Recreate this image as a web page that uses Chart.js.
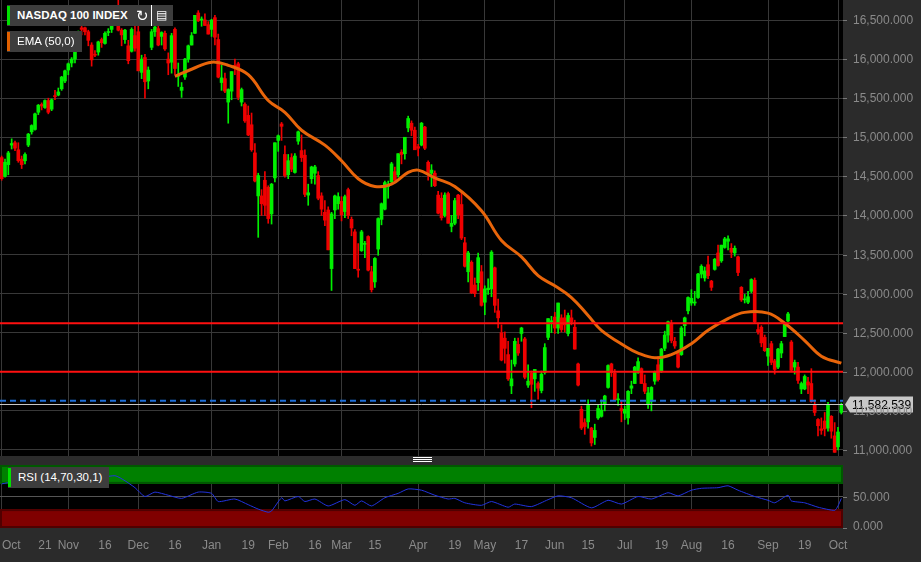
<!DOCTYPE html>
<html>
<head>
<meta charset="utf-8">
<script src="https://cdn.jsdelivr.net/npm/chart.js@4"></script>
<style>
  body { margin: 0; background: #2b2b2b; width: 921px; height: 562px; overflow: hidden; font-family: "Liberation Sans", Arial, sans-serif; }
  #mainWrap { position: absolute; left: 0; top: 0; width: 921px; height: 457px; }
  #rsiWrap { position: absolute; left: 0; top: 464px; width: 921px; height: 98px; }
  .tag { position: absolute; background: #3d3d3d; color: #fff; font-size: 11.5px; font-weight: bold; line-height: 21px; height: 21px; padding: 0 7px 0 10px; }
  .tag:before { content: ''; position: absolute; left: 0; top: 1px; bottom: 1px; width: 3px; }
  .green:before { background: #00e000; }
  .orange:before { background: #e06000; }
  .icons { position: absolute; left: 131px; top: 5px; height: 21px; width: 42px; background: #3d3d3d; color: #fff; font-size: 15px; line-height: 21px; }
  .sep { position: absolute; left: 0; top: 456px; width: 921px; height: 8px; background: #2b2b2b; }
  .handle { position: absolute; left: 413px; top: 457px; width: 19px; height: 5px; border-top: 1px solid #fff; border-bottom: 1px solid #fff; box-sizing: border-box; }
  .handle:after { content: ''; position: absolute; left: 0; right: 0; top: 1px; border-top: 1px solid #fff; }
</style>
</head>
<body>
<div id="mainWrap"><canvas id="mainChart"></canvas></div>
<div class="sep"></div><div class="handle"></div>
<div id="rsiWrap"><canvas id="rsiChart"></canvas></div>
<div class="tag green" style="left:7px;top:5px;">NASDAQ 100 INDEX</div>
<div class="icons"><span style="position:absolute;left:5px;">&#8635;</span><span style="position:absolute;left:20px;top:0;width:1px;height:21px;background:#fff;"></span><span style="position:absolute;left:25px;font-size:12px;">&#9636;</span></div>
<div class="tag orange" style="left:7px;top:31px;font-weight:normal;">EMA (50,0)</div>
<div class="tag green" style="left:8px;top:467px;font-weight:normal;">RSI (14,70,30,1)</div>
<script>
// [date, open, high, low, close]
const candles = [
['21-10-04',14740,14760,14450,14470],['21-10-05',14500,14720,14490,14680],
['21-10-06',14650,14820,14520,14800],['21-10-07',14900,14980,14850,14920],['21-10-08',14930,14950,14830,14860],
['21-10-11',14840,14930,14680,14700],['21-10-12',14720,14760,14600,14650],['21-10-13',14700,14800,14660,14780],
['21-10-14',14900,15050,14880,15040],['21-10-15',15070,15160,15040,15150],['21-10-18',15100,15310,15090,15300],
['21-10-19',15320,15420,15290,15410],['21-10-20',15420,15440,15350,15400],['21-10-21',15380,15480,15370,15470],
['21-10-22',15470,15500,15300,15320],['21-10-25',15360,15490,15340,15480],['21-10-26',15530,15600,15480,15520],
['21-10-27',15540,15630,15530,15580],['21-10-28',15620,15780,15600,15770],['21-10-29',15720,15860,15700,15850],
['21-11-01',15860,15950,15800,15940],['21-11-02',15950,16020,15900,16000],['21-11-03',16000,16180,15950,16170],
['21-11-04',16220,16360,16200,16350],['21-11-05',16400,16440,16310,16380],['21-11-08',16400,16410,16310,16350],
['21-11-09',16350,16370,16170,16240],['21-11-10',16180,16210,15910,15990],['21-11-11',16060,16110,16030,16050],
['21-11-12',16090,16230,16050,16220],['21-11-15',16250,16270,16150,16210],['21-11-16',16200,16350,16190,16330],
['21-11-17',16340,16390,16300,16340],['21-11-18',16380,16510,16340,16500],['21-11-19',16520,16600,16500,16570],
['21-11-22',16610,16760,16360,16370],['21-11-23',16370,16390,16170,16310],['21-11-24',16250,16380,16200,16370],
['21-11-26',16170,16240,15940,15980],['21-11-29',16100,16400,16090,16380],['21-11-30',16300,16420,16100,16140],
['21-12-01',16350,16480,15850,15850],['21-12-02',15830,16050,15750,16000],['21-12-03',16020,16060,15500,15710],
['21-12-06',15720,15900,15620,15860],['21-12-07',16150,16380,16120,16350],['21-12-08',16350,16440,16290,16410],
['21-12-09',16390,16430,16170,16180],['21-12-10',16290,16350,16180,16340],['21-12-13',16330,16360,16110,16130],
['21-12-14',16000,16080,15800,15950],['21-12-15',15960,16330,15820,16300],['21-12-16',16380,16400,15800,15880],
['21-12-17',15780,15950,15650,15800],['21-12-20',15600,15700,15510,15640],['21-12-21',15770,16010,15740,16000],
['21-12-22',16000,16180,15960,16170],['21-12-23',16180,16340,16180,16300],['21-12-27',16330,16560,16330,16560],
['21-12-28',16590,16620,16480,16490],['21-12-29',16500,16540,16420,16500],['21-12-30',16500,16580,16430,16430],
['21-12-31',16440,16480,16320,16320],
['22-01-03',16380,16510,16290,16500],['22-01-04',16530,16560,16180,16280],['22-01-05',16250,16320,15760,15770],
['22-01-06',15700,15920,15600,15760],['22-01-07',15750,15820,15570,15590],['22-01-10',15450,15620,15180,15610],
['22-01-11',15590,15840,15480,15840],['22-01-12',15920,16000,15800,15900],['22-01-13',15940,15960,15480,15510],
['22-01-14',15450,15630,15400,15610],['22-01-18',15420,15440,15190,15210],['22-01-19',15280,15400,15020,15030],
['22-01-20',15160,15310,14820,14840],['22-01-21',14800,14920,14430,14440],['22-01-24',14250,14540,13720,14510],
['22-01-25',14250,14330,14000,14150],['22-01-26',14450,14560,14000,14130],['22-01-27',14360,14380,13900,13960],
['22-01-28',14020,14410,13890,14400],['22-01-31',14480,14930,14430,14930],
['22-02-01',14960,15030,14820,15020],['22-02-02',15170,15190,14960,15140],['22-02-03',14780,14890,14490,14510],
['22-02-04',14520,14780,14470,14700],['22-02-07',14740,14790,14560,14590],['22-02-08',14550,14790,14540,14760],
['22-02-09',14950,15080,14910,15070],['22-02-10',14830,15030,14690,14740],['22-02-11',14770,14840,14240,14270],
['22-02-14',14260,14400,14130,14290],['22-02-15',14470,14630,14410,14620],['22-02-16',14540,14640,14400,14620],
['22-02-17',14510,14560,14200,14220],['22-02-18',14250,14290,14000,14080],['22-02-22',14040,14190,13870,13940],
['22-02-23',14070,14110,13560,13560],['22-02-24',13320,14040,13040,14020],['22-02-25',14070,14260,13960,14250],
['22-02-28',14150,14290,14080,14240],
['22-03-01',14180,14240,13930,14010],['22-03-02',14050,14260,13970,14240],['22-03-03',14330,14350,13960,14000],
['22-03-04',13950,13980,13740,13840],['22-03-07',13790,13820,13320,13320],['22-03-08',13310,13640,13210,13300],
['22-03-09',13550,13810,13540,13790],['22-03-10',13630,13670,13460,13630],['22-03-11',13730,13740,13290,13300],
['22-03-14',13280,13350,13020,13050],['22-03-15',13150,13460,13080,13450],['22-03-16',13570,13970,13490,13960],
['22-03-17',13950,14160,13880,14150],['22-03-18',14080,14440,14070,14420],['22-03-21',14370,14440,14220,14390],
['22-03-22',14430,14680,14420,14660],['22-03-23',14560,14620,14440,14450],['22-03-24',14520,14790,14490,14790],
['22-03-25',14810,14840,14660,14780],['22-03-28',14790,15000,14720,15000],['22-03-29',15120,15270,15070,15240],
['22-03-30',15180,15210,15020,15090],['22-03-31',15090,15130,14840,14840],
['22-04-01',14880,14910,14760,14860],['22-04-04',14900,15190,14890,15180],['22-04-05',15130,15140,14840,14860],
['22-04-06',14680,14700,14450,14540],['22-04-07',14540,14650,14370,14580],['22-04-08',14540,14570,14370,14380],
['22-04-11',14260,14310,14020,14030],['22-04-12',14220,14290,13940,13970],['22-04-13',14000,14290,13980,14260],
['22-04-14',14280,14300,13900,13900],['22-04-18',13860,14000,13790,13900],['22-04-19',13900,14220,13880,14190],
['22-04-20',14260,14270,13960,14010],['22-04-21',14140,14310,13690,13710],['22-04-22',13650,13720,13340,13350],
['22-04-25',13280,13540,13150,13520],['22-04-26',13400,13420,13000,13010],['22-04-27',13110,13200,12960,13000],
['22-04-28',13140,13520,13040,13460],['22-04-29',13280,13360,12840,12850],
['22-05-02',12890,13100,12730,13060],['22-05-03',13050,13190,12990,13070],['22-05-04',13060,13550,12960,13530],
['22-05-05',13330,13340,12760,12850],['22-05-06',12780,12930,12560,12690],['22-05-09',12500,12600,12140,12150],
['22-05-10',12430,12510,12110,12300],['22-05-11',12220,12390,11890,11910],['22-05-12',11820,12150,11720,11910],
['22-05-13',12100,12430,12070,12390],['22-05-16',12350,12430,12210,12240],['22-05-17',12490,12570,12390,12560],
['22-05-18',12420,12440,11910,11930],['22-05-19',11830,12090,11800,11880],['22-05-20',11980,12010,11540,11840],
['22-05-23',11910,12030,11750,12030],['22-05-24',11850,11870,11650,11790],['22-05-25',11760,12010,11730,11970],
['22-05-26',11990,12360,11970,12310],['22-05-27',12440,12680,12410,12680],['22-05-31',12640,12710,12500,12640],
['22-06-01',12700,12760,12490,12560],['22-06-02',12560,12880,12490,12880],['22-06-03',12690,12730,12510,12540],
['22-06-06',12690,12790,12510,12600],['22-06-07',12490,12750,12460,12720],['22-06-08',12690,12790,12600,12640],
['22-06-09',12570,12660,12290,12290],['22-06-10',12100,12110,11820,11830],['22-06-13',11520,11560,11260,11280],
['22-06-14',11350,11400,11200,11300],['22-06-15',11360,11640,11280,11570],['22-06-16',11280,11290,11050,11090],
['22-06-17',11160,11330,11070,11250],['22-06-21',11410,11570,11390,11530],['22-06-22',11430,11640,11420,11510],
['22-06-23',11580,11700,11500,11690],['22-06-24',11800,12090,11790,12080],['22-06-27',12100,12110,11940,11990],
['22-06-28',11980,12030,11630,11640],['22-06-29',11640,11720,11570,11640],['22-06-30',11530,11620,11360,11500],
['22-07-01',11470,11560,11390,11520],['22-07-05',11410,11760,11330,11750],['22-07-06',11790,11880,11720,11820],
['22-07-07',11850,12070,11850,12060],['22-07-08',11990,12180,11980,12130],['22-07-11',12040,12050,11850,11850],
['22-07-12',11850,11960,11720,11750],['22-07-13',11580,11800,11530,11730],['22-07-14',11620,11810,11500,11800],
['22-07-15',11880,12010,11840,12000],['22-07-18',12090,12190,11880,11900],['22-07-19',12010,12300,11990,12290],
['22-07-20',12300,12520,12270,12470],['22-07-21',12470,12650,12380,12640],['22-07-22',12620,12660,12370,12400],
['22-07-25',12390,12440,12300,12330],['22-07-26',12250,12260,12050,12060],['22-07-27',12220,12580,12210,12560],
['22-07-28',12590,12700,12460,12690],['22-07-29',12780,12960,12740,12950],
['22-08-01',12880,13050,12850,12940],['22-08-02',12880,13030,12850,12880],['22-08-03',12950,13260,12940,13250],
['22-08-04',13250,13370,13200,13350],['22-08-05',13200,13340,13160,13290],['22-08-08',13370,13480,13190,13230],
['22-08-09',13160,13170,13040,13080],['22-08-10',13310,13450,13300,13440],['22-08-11',13520,13620,13350,13360],
['22-08-12',13420,13620,13400,13620],['22-08-15',13590,13720,13580,13700],['22-08-16',13670,13740,13560,13700],
['22-08-17',13580,13640,13460,13530],['22-08-18',13520,13610,13480,13580],['22-08-19',13470,13480,13230,13270],
['22-08-22',13080,13090,12900,12920],['22-08-23',12920,12990,12880,12920],['22-08-24',12890,13030,12870,12960],
['22-08-25',13030,13190,13010,13180],['22-08-26',13170,13200,12630,12640],['22-08-29',12540,12620,12480,12510],
['22-08-30',12570,12590,12320,12370],['22-08-31',12440,12470,12260,12270],
['22-09-01',12200,12300,12080,12300],['22-09-02',12360,12390,12090,12120],['22-09-06',12140,12160,11970,12030],
['22-09-07',12060,12300,12040,12290],['22-09-08',12240,12390,12180,12360],['22-09-09',12450,12630,12450,12620],
['22-09-12',12650,12760,12640,12740],['22-09-13',12380,12400,12000,12020],['22-09-14',12060,12150,11970,12120],
['22-09-15',12060,12120,11850,11890],['22-09-16',11780,11870,11720,11850],['22-09-19',11780,11960,11770,11940],
['22-09-20',11870,11930,11720,11830],['22-09-21',11850,12040,11610,11620],['22-09-22',11580,11640,11440,11480],
['22-09-23',11390,11400,11180,11310],['22-09-26',11270,11410,11200,11250],['22-09-27',11370,11480,11180,11270],
['22-09-28',11280,11610,11240,11580],['22-09-29',11430,11440,11150,11240],['22-09-30',11180,11350,10970,10970],
['22-10-03',11040,11290,11000,11230],['22-10-04',11480,11600,11460,11582.539]
];

const emaDates = ['21-12-16','21-12-23','22-01-03','22-01-10','22-01-19','22-01-27','22-02-03','22-02-10','22-02-22','22-03-01','22-03-08','22-03-15','22-03-22','22-03-29','22-04-01','22-04-08','22-04-19','22-04-29','22-05-09','22-05-17','22-05-24','22-06-01','22-06-08','22-06-15','22-06-22','22-07-01','22-07-08','22-07-15','22-07-22','22-08-01','22-08-08','22-08-16','22-08-23','22-09-01','22-09-09','22-09-19','22-09-26','22-10-04'];
const emaValues = [15780,15870,15960,15920,15800,15470,15320,15090,14900,14700,14470,14370,14400,14550,14580,14480,14370,14060,13680,13470,13230,13100,12950,12720,12530,12330,12240,12180,12220,12360,12530,12680,12760,12750,12620,12400,12200,12110];

const rsiDates = ['21-10-04','21-10-14','21-10-22','21-11-01','21-11-10','21-11-19','21-11-24','21-11-30','21-12-03','21-12-08','21-12-14','21-12-20','21-12-28','22-01-03','22-01-05','22-01-12','22-01-19','22-01-24','22-01-27','22-01-28','22-02-02','22-02-03','22-02-09','22-02-11','22-02-16','22-02-23','22-03-02','22-03-07','22-03-09','22-03-14','22-03-18','22-03-24','22-03-29','22-04-04','22-04-08','22-04-14','22-04-19','22-04-22','22-04-29','22-05-04','22-05-11','22-05-13','22-05-20','22-05-27','22-06-02','22-06-08','22-06-16','22-06-24','22-06-30','22-07-08','22-07-14','22-07-21','22-07-26','22-08-01','22-08-04','22-08-11','22-08-16','22-08-19','22-08-26','22-09-01','22-09-06','22-09-12','22-09-13','22-09-19','22-09-23','22-09-30','22-10-03','22-10-04'];
const rsiValues = [70,78,80,84,78,83,75,64,50,57,52,47,57,55,42,46,37,30,25,27,48,43,50,42,46,35,45,36,43,35,48,55,62,60,52,46,47,40,36,42,33,38,34,45,51,48,32,44,38,50,46,56,51,60,63,64,67,60,50,44,40,52,43,40,33,28,35,47];

const priceTicks = [11000,11500,12000,12500,13000,13500,14000,14500,15000,15500,16000,16500];
const rsiTicks = [0, 50];
const levelLines = [12620, 12000];
const dashedLevel = 11630;
const lastPrice = 11582.539;

const xTickDates = ['21-10-04','21-10-21','21-11-01','21-11-16','21-12-01','21-12-16','22-01-03','22-01-19','22-02-01','22-02-16','22-03-01','22-03-15','22-04-01','22-04-19','22-05-02','22-05-17','22-06-01','22-06-15','22-07-01','22-07-19','22-08-01','22-08-16','22-09-01','22-09-19','22-10-03'];
const xTickLabels = ['Oct','21','Nov','16','Dec','16','Jan','19','Feb','16','Mar','15','Apr','19','May','17','Jun','15','Jul','19','Aug','16','Sep','19','Oct'];

const labels = candles.map(c => c[0]);
const up = candles.map(c => c[4] >= c[1]);
const candleColors = up.map(u => u ? '#00f000' : '#f00000');
const FONT = '12px "Liberation Sans", Arial';

function sparse(dates, values) {
    const out = labels.map(() => null);
    dates.forEach((d, i) => { const k = labels.indexOf(d); if (k >= 0) out[k] = values[i]; });
    return out;
}

function tickLabelFor(i) {
    const k = xTickDates.indexOf(labels[i]);
    return k >= 0 ? xTickLabels[k] : '';
}
function isMonthTick(i) {
    const t = tickLabelFor(i);
    return t !== '' && isNaN(parseInt(t));
}

const fmt = v => v.toLocaleString('en-US', { minimumFractionDigits: 3, maximumFractionDigits: 3 });

// black plot area
const areaBg = {
    id: 'areaBg',
    beforeDraw(chart) {
        const { ctx, chartArea: a } = chart;
        ctx.save();
        ctx.fillStyle = '#000';
        ctx.fillRect(a.left, a.top, a.right - a.left, a.bottom - a.top);
        ctx.restore();
    }
};

// right-hand value labels drawn by hand so they don't pad the plot area
const yLabels = {
    id: 'yLabels',
    afterDraw(chart, args, opts) {
        const { ctx, chartArea: a, scales: { y } } = chart;
        ctx.save();
        ctx.font = FONT;
        ctx.fillStyle = '#8a8a8a';
        ctx.strokeStyle = '#777';
        ctx.textBaseline = 'middle';
        opts.values.forEach(v => {
            const py = Math.round(y.getPixelForValue(v)) + 0.5;
            ctx.beginPath(); ctx.moveTo(a.right, py); ctx.lineTo(a.right + 4, py); ctx.stroke();
            ctx.fillText(fmt(v), a.right + 10, Math.min(py, a.bottom - 1));
        });
        ctx.restore();
    }
};

// bottom date labels
const xLabels = {
    id: 'xLabels',
    afterDraw(chart) {
        const { ctx, chartArea: a, scales: { x } } = chart;
        ctx.save();
        ctx.font = FONT;
        ctx.fillStyle = '#8a8a8a';
        ctx.textBaseline = 'middle';
        ctx.textAlign = 'center';
        labels.forEach((d, i) => {
            const t = tickLabelFor(i);
            if (!t) return;
            const w = ctx.measureText(t).width;
            const px = Math.max(x.getPixelForValue(i), 2 + w / 2);
            ctx.fillText(t, px, a.bottom + 18);
        });
        ctx.restore();
    }
};

// horizontal levels + price tag
const levels = {
    id: 'levels',
    afterDatasetsDraw(chart) {
        const { ctx, chartArea: a, scales: { y } } = chart;
        ctx.save();
        ctx.strokeStyle = '#ff1010';
        ctx.lineWidth = 2;
        levelLines.forEach(v => {
            const py = y.getPixelForValue(v);
            ctx.beginPath(); ctx.moveTo(a.left, py); ctx.lineTo(a.right, py); ctx.stroke();
        });
        ctx.strokeStyle = '#1f6fd8';
        ctx.setLineDash([6, 4]);
        let py = y.getPixelForValue(dashedLevel);
        ctx.beginPath(); ctx.moveTo(a.left, py); ctx.lineTo(a.right, py); ctx.stroke();
        ctx.setLineDash([]);
        ctx.strokeStyle = '#c8c8c8';
        ctx.lineWidth = 1;
        py = Math.round(y.getPixelForValue(lastPrice)) + 0.5;
        ctx.beginPath(); ctx.moveTo(a.left, py); ctx.lineTo(a.right, py); ctx.stroke();
        ctx.restore();
    },
    afterDraw(chart) {
        const { ctx, chartArea: a, scales: { y } } = chart;
        const py = Math.round(y.getPixelForValue(lastPrice)) + 0.5;
        ctx.save();
        ctx.fillStyle = '#c8c8c8';
        ctx.beginPath();
        ctx.moveTo(a.right + 2, py);
        ctx.lineTo(a.right + 7, py - 8);
        ctx.lineTo(a.right + 70, py - 8);
        ctx.lineTo(a.right + 70, py + 8);
        ctx.lineTo(a.right + 7, py + 8);
        ctx.closePath();
        ctx.fill();
        ctx.fillStyle = '#000';
        ctx.font = FONT;
        ctx.textBaseline = 'middle';
        ctx.fillText(fmt(lastPrice), a.right + 9, py + 1);
        ctx.restore();
    }
};

// RSI bands
const rsiBands = {
    id: 'rsiBands',
    beforeDatasetsDraw(chart) {
        const { ctx, chartArea: a, scales: { y } } = chart;
        ctx.save();
        const band = (lo, hi, fill, edge) => {
            const t = y.getPixelForValue(hi), b = y.getPixelForValue(lo);
            ctx.fillStyle = fill;
            ctx.fillRect(a.left, t, a.right - a.left, b - t);
            ctx.strokeStyle = edge; ctx.lineWidth = 2;
            ctx.strokeRect(a.left + 1, t + 1, a.right - a.left - 2, b - t - 2);
        };
        band(70, 100, '#008000', '#005800');
        band(0, 30, '#800000', '#500000');
        const m = y.getPixelForValue(50);
        ctx.strokeStyle = '#555'; ctx.lineWidth = 1;
        ctx.beginPath(); ctx.moveTo(a.left, m); ctx.lineTo(a.right, m); ctx.stroke();
        ctx.restore();
    }
};

const gridColor = ctx => (ctx.index !== undefined && isMonthTick(ctx.index)) ? '#383838' : 'rgba(0,0,0,0)';
const fixWidth = axis => { axis.width = 78; };

new Chart(document.getElementById('mainChart'), {
    data: {
        labels: labels,
        datasets: [
            { type: 'line', data: sparse(emaDates, emaValues), borderColor: '#e8650a', borderWidth: 3, pointRadius: 0, tension: 0.4, spanGaps: true, order: 0 },
            { type: 'bar', data: candles.map(c => [c[1], c[4]]), backgroundColor: candleColors, barThickness: 3, minBarLength: 1, grouped: false, order: 1 },
            { type: 'bar', data: candles.map(c => [c[3], c[2]]), backgroundColor: candleColors, barThickness: 1, grouped: false, order: 2 }
        ]
    },
    options: {
        responsive: true,
        maintainAspectRatio: false,
        animation: false,
        layout: { padding: 0 },
        plugins: { legend: { display: false }, tooltip: { enabled: false }, yLabels: { values: priceTicks } },
        scales: {
            x: {
                offset: true,
                ticks: { display: false, autoSkip: false },
                grid: { color: gridColor, drawTicks: false, offset: false },
                border: { display: false }
            },
            y: {
                position: 'right',
                min: 10910,
                max: 16756,
                afterBuildTicks: axis => { axis.ticks = priceTicks.map(v => ({ value: v })); },
                afterFit: fixWidth,
                ticks: { display: false },
                grid: { color: '#383838', drawTicks: false },
                border: { display: false }
            }
        }
    },
    plugins: [areaBg, levels, yLabels]
});

new Chart(document.getElementById('rsiChart'), {
    type: 'line',
    data: {
        labels: labels,
        datasets: [
            { data: sparse(rsiDates, rsiValues), borderColor: '#2233dd', borderWidth: 1, pointRadius: 0, tension: 0.2, spanGaps: true }
        ]
    },
    options: {
        responsive: true,
        maintainAspectRatio: false,
        animation: false,
        layout: { padding: { top: 1, bottom: 34 } },
        plugins: { legend: { display: false }, tooltip: { enabled: false }, yLabels: { values: rsiTicks } },
        scales: {
            x: {
                offset: true,
                ticks: { display: false, autoSkip: false },
                grid: { color: gridColor, drawTicks: false, offset: false },
                border: { display: false }
            },
            y: {
                position: 'right',
                min: 0,
                max: 100,
                afterFit: fixWidth,
                ticks: { display: false },
                grid: { display: false },
                border: { display: false }
            }
        }
    },
    plugins: [areaBg, rsiBands, yLabels, xLabels]
});
</script>
</body>
</html>
